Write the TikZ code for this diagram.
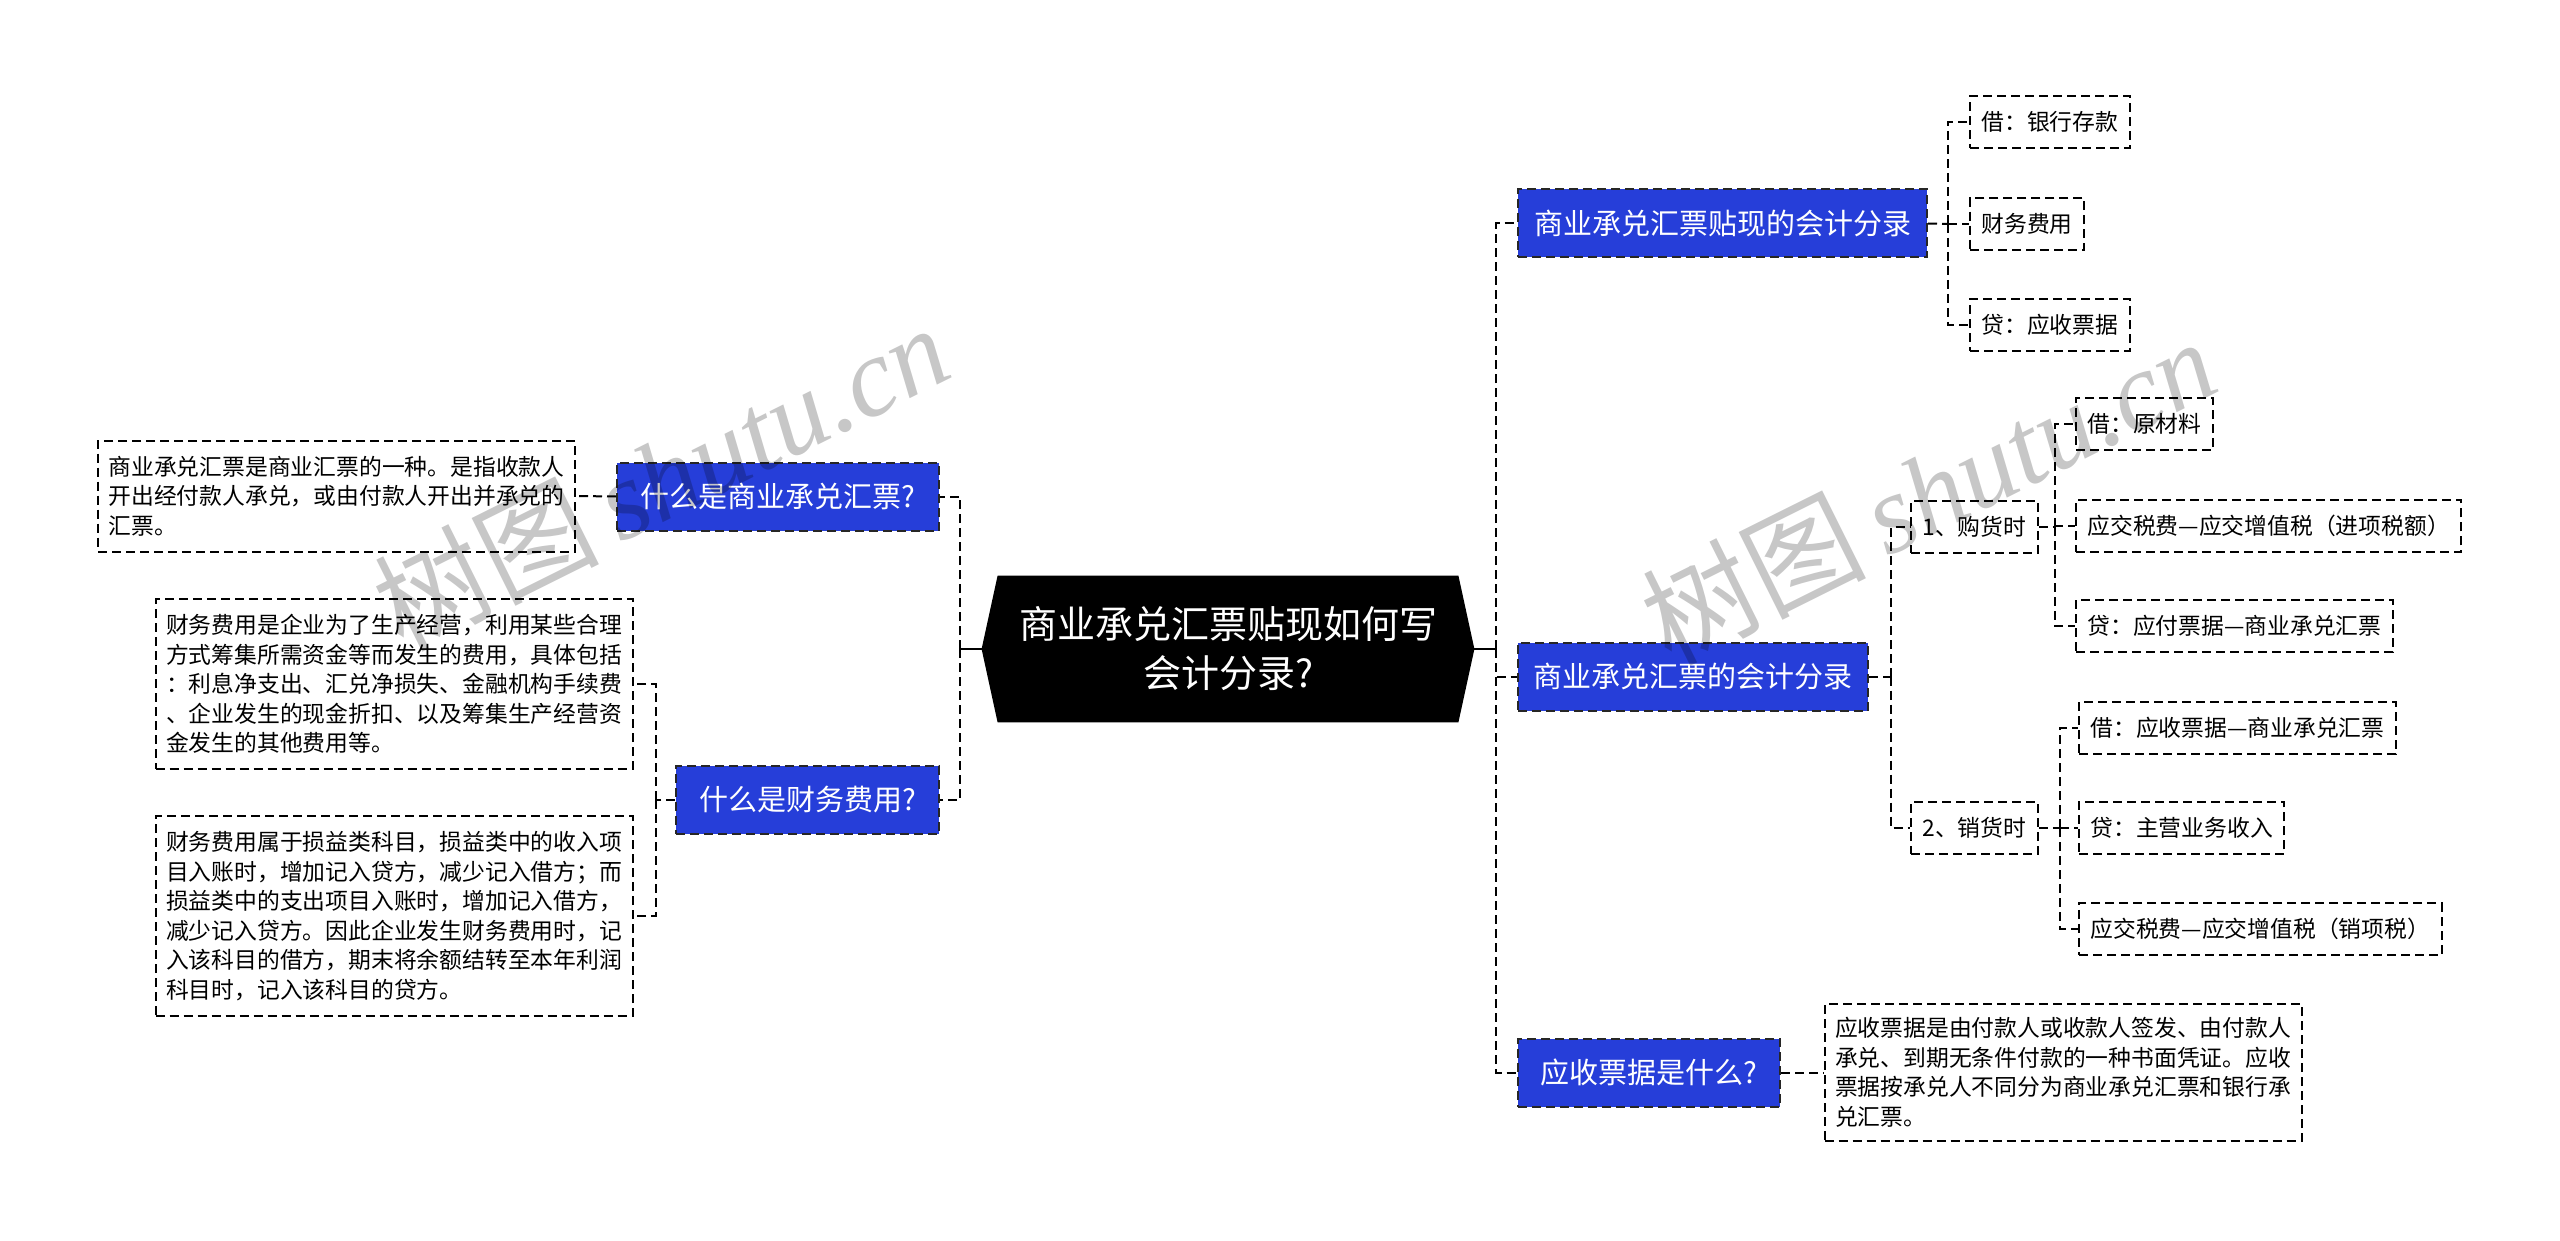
\documentclass[tikz,border=0pt]{standalone}
\usepackage{fontspec}
\setmainfont{Noto Sans CJK SC}
\newfontfamily\wmlatin{Liberation Serif}
\newfontfamily\wmcjk{Noto Sans CJK SC}
\usetikzlibrary{backgrounds}
\definecolor{bluebox}{RGB}{38,62,217}
\begin{document}
\begin{tikzpicture}[x=0.5pt,y=-0.5pt,
  dsh/.style={line width=1pt, dash pattern=on 4.5pt off 2.5pt},
  conn/.style={draw=black, dsh},
  bluenode/.style={fill=bluebox, draw=black!85, dsh, text=white,
    font=\fontsize{14.5pt}{17pt}\selectfont, minimum height=34pt, inner xsep=0pt},
  leaf/.style={draw=black, dsh, font=\fontsize{11.4pt}{14pt}\selectfont,
    minimum height=26pt, inner xsep=5.75pt, anchor=west},
  para/.style={draw=black, dsh, align=left, inner xsep=5pt,
    font=\fontsize{11.4pt}{14.75pt}\selectfont, minimum width=238.5pt},
  wm/.style={text=black, opacity=0.22, rotate=26.5, inner sep=0pt}
]
\useasboundingbox (0,0) rectangle (2560,1241);

% root
\node[text=white, align=center, minimum width=230pt, minimum height=73pt,
  font=\fontsize{19pt}{24.5pt}\selectfont] (root) at (1228,649)
  {商业承兑汇票贴现如何写\\会计分录?};
\begin{scope}[on background layer]
\fill[white] (0,0) rectangle (2560,1241);
\fill[black] ([xshift=-8pt]root.west) -- (root.north west) -- (root.north east)
  -- ([xshift=8pt]root.east) -- (root.south east) -- (root.south west) -- cycle;
\end{scope}

% left side
\node[bluenode, minimum width=161pt] (q1) at (778,496.5) {什么是商业承兑汇票?};
\node[bluenode, minimum width=131.5pt] (q2) at (807.5,800) {什么是财务费用?};

\node[para, minimum height=55.5pt] (p1) at (336.5,496)
 {商业承兑汇票是商业汇票的一种。是指收款人\\开出经付款人承兑，或由付款人开出并承兑的\\汇票。};
\node[para, minimum height=85pt] (p2) at (394,684)
 {财务费用是企业为了生产经营，利用某些合理\\方式筹集所需资金等而发生的费用，具体包括\\：利息净支出、汇兑净损失、金融机构手续费\\、企业发生的现金折扣、以及筹集生产经营资\\金发生的其他费用等。};
\node[para, minimum height=100pt] (p3) at (394,916)
 {财务费用属于损益类科目，损益类中的收入项\\目入账时，增加记入贷方，减少记入借方；而\\损益类中的支出项目入账时，增加记入借方，\\减少记入贷方。因此企业发生财务费用时，记\\入该科目的借方，期末将余额结转至本年利润\\科目时，记入该科目的贷方。};

% right side
\node[bluenode, minimum width=204.5pt] (b1) at (1722.5,223.5) {商业承兑汇票贴现的会计分录};
\node[bluenode, minimum width=175pt] (b2) at (1693,676.5) {商业承兑汇票的会计分录};
\node[bluenode, minimum width=131pt] (b3) at (1649,1072.5) {应收票据是什么?};

\node[leaf] (l11) at (1969,122) {借：银行存款};
\node[leaf] (l12) at (1969,224) {财务费用};
\node[leaf] (l13) at (1969,325) {贷：应收票据};

\node[leaf] (c1) at (1910,527) {1、购货时};
\node[leaf] (c2) at (1910,828) {2、销货时};

\node[leaf] (m11) at (2075,424) {借：原材料};
\node[leaf] (m12) at (2075,526) {应交税费—应交增值税（进项税额）};
\node[leaf] (m13) at (2075,626) {贷：应付票据—商业承兑汇票};
\node[leaf] (m21) at (2078,728) {借：应收票据—商业承兑汇票};
\node[leaf] (m22) at (2078,828) {贷：主营业务收入};
\node[leaf] (m23) at (2078,929) {应交税费—应交增值税（销项税）};

\node[para, minimum height=68.5pt] (p4) at (2063,1072.5)
 {应收票据是由付款人或收款人签发、由付款人\\承兑、到期无条件付款的一种书面凭证。应收\\票据按承兑人不同分为商业承兑汇票和银行承\\兑汇票。};

% junction coordinates
\coordinate (lj) at (960,649);
\coordinate (rj) at (1496,649);
\coordinate (q2j) at (656,800);
\coordinate (b1j) at (1948,224);
\coordinate (b2j) at (1891,676.5);
\coordinate (c1j) at (2055,527);
\coordinate (c2j) at (2060,828);

% connectors
\draw[line width=1pt] ([xshift=-8pt]root.west) -- (lj);
\draw[line width=1pt] ([xshift=8pt]root.east) -- (rj);
\draw[conn] (lj) |- (q1.east);
\draw[conn] (lj) |- (q2.east);
\draw[conn] (q1.west) -- (p1.east);
\draw[conn] (q2.west) -- (q2j);
\draw[conn] (q2j) |- (p2.east);
\draw[conn] (q2j) |- (p3.east);

\draw[conn] (rj) |- (b1.west);
\draw[conn] (rj) |- (b2.west);
\draw[conn] (rj) |- (b3.west);

\draw[conn] (b1.east) -- (b1j);
\draw[conn] (b1j) |- (l11.west);
\draw[conn] (b1j) |- (l12.west);
\draw[conn] (b1j) |- (l13.west);

\draw[conn] (b2.east) -- (b2j);
\draw[conn] (b2j) |- (c1.west);
\draw[conn] (b2j) |- (c2.west);

\draw[conn] (c1.east) -- (c1j);
\draw[conn] (c1j) |- (m11.west);
\draw[conn] (c1j) |- (m12.west);
\draw[conn] (c1j) |- (m13.west);

\draw[conn] (c2.east) -- (c2j);
\draw[conn] (c2j) |- (m21.west);
\draw[conn] (c2j) |- (m22.west);
\draw[conn] (c2j) |- (m23.west);

\draw[conn] (b3.east) -- (p4.west);

% watermark
\node[wm] (wm1) at (661,476) {\fontsize{56pt}{60pt}\selectfont\wmcjk 树图\,\wmlatin\itshape shutu.cn};
\node[wm] (wm2) at (1928,490) {\fontsize{56pt}{60pt}\selectfont\wmcjk 树图\,\wmlatin\itshape shutu.cn};
\end{tikzpicture}
\end{document}
